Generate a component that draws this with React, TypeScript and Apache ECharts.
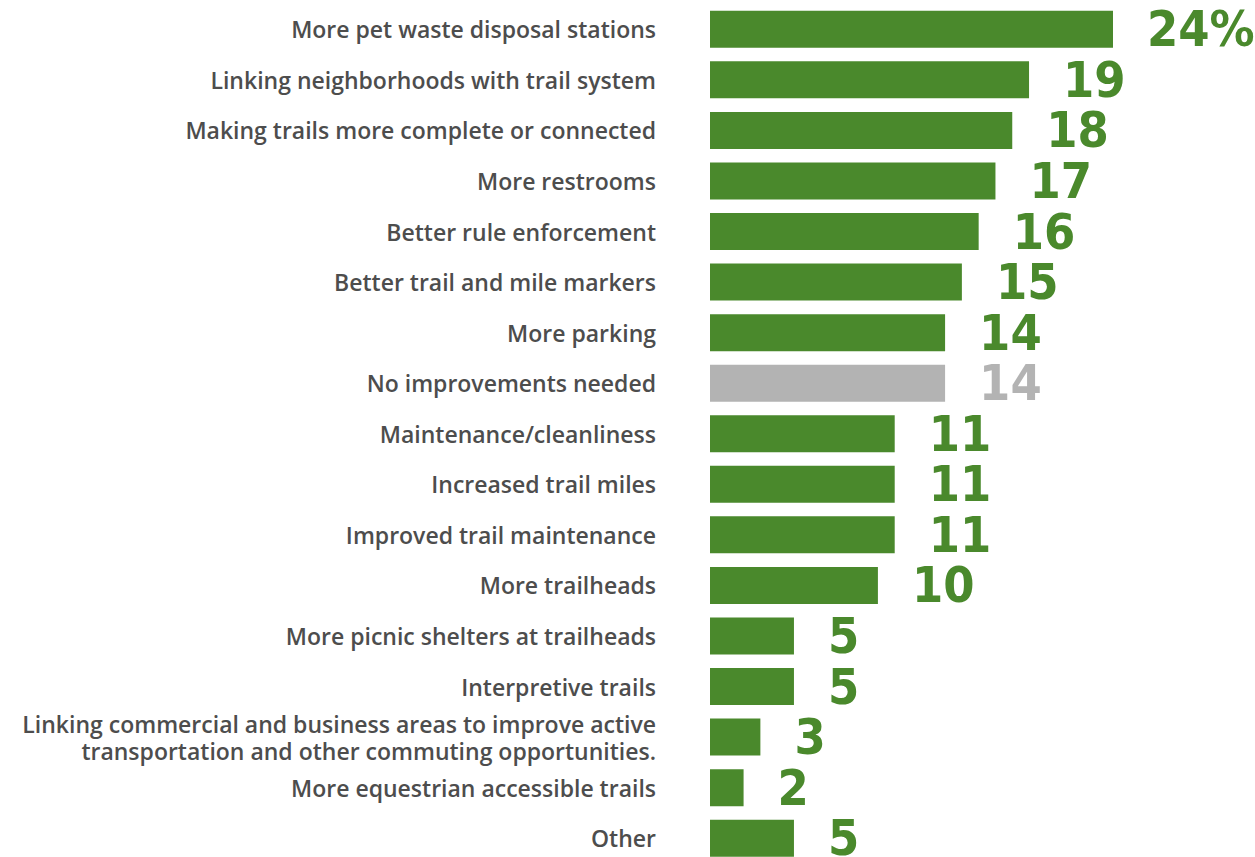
import React, { useEffect, useRef } from "react";
import * as echarts from "echarts";

const categories = [
  "More pet waste disposal stations",
  "Linking neighborhoods with trail system",
  "Making trails more complete or connected",
  "More restrooms",
  "Better rule enforcement",
  "Better trail and mile markers",
  "More parking",
  "No improvements needed",
  "Maintenance/cleanliness",
  "Increased trail miles",
  "Improved trail maintenance",
  "More trailheads",
  "More picnic shelters at trailheads",
  "Interpretive trails",
  "Linking commercial and business areas to improve active\ntransportation and other commuting opportunities.",
  "More equestrian accessible trails",
  "Other",
];

const values = [24, 19, 18, 17, 16, 15, 14, 14, 11, 11, 11, 10, 5, 5, 3, 2, 5];
const highlightGray = ["No improvements needed"];

const GREEN = "#4a892c";
const GRAY = "#b3b3b3";

export default function App() {
  const ref = useRef<HTMLDivElement>(null);
  useEffect(() => {
    document.body.style.margin = "0";
    if (!ref.current) return;
    const chart = echarts.init(ref.current, undefined, { renderer: "svg" });
    const data = values.map((v, i) => {
      const c = highlightGray.includes(categories[i]) ? GRAY : GREEN;
      return {
        value: v,
        itemStyle: { color: c },
        label: { color: c },
      };
    });
    chart.setOption({
      animation: false,
      grid: { left: 710, top: 4, width: 403, height: 859.5, containLabel: false },
      xAxis: {
        type: "value",
        min: 0,
        max: 24,
        show: false,
      },
      yAxis: {
        type: "category",
        data: categories,
        inverse: true,
        axisLine: { show: false },
        axisTick: { show: false },
        axisLabel: {
          margin: 54,
          color: "#4d4d4d",
          fontFamily: "Open Sans",
          fontWeight: 600,
          fontSize: 23,
          lineHeight: 27,
          align: "right",
        },
      },
      series: [
        {
          type: "bar",
          data,
          barWidth: 37,
          label: {
            show: true,
            position: "right",
            distance: 34,
            fontFamily: "DejaVu Sans Condensed",
            fontWeight: "bold",
            fontSize: 50,
            lineHeight: 44,
            formatter: (p: any) => (p.dataIndex === 0 ? `${p.value}%` : `${p.value}`),
          },
        },
      ],
    });
    return () => chart.dispose();
  }, []);
  return (
    <div style={{ width: 1255, height: 857, overflow: "hidden" }}>
      <div ref={ref} style={{ width: 1255, height: 880 }} />
    </div>
  );
}
